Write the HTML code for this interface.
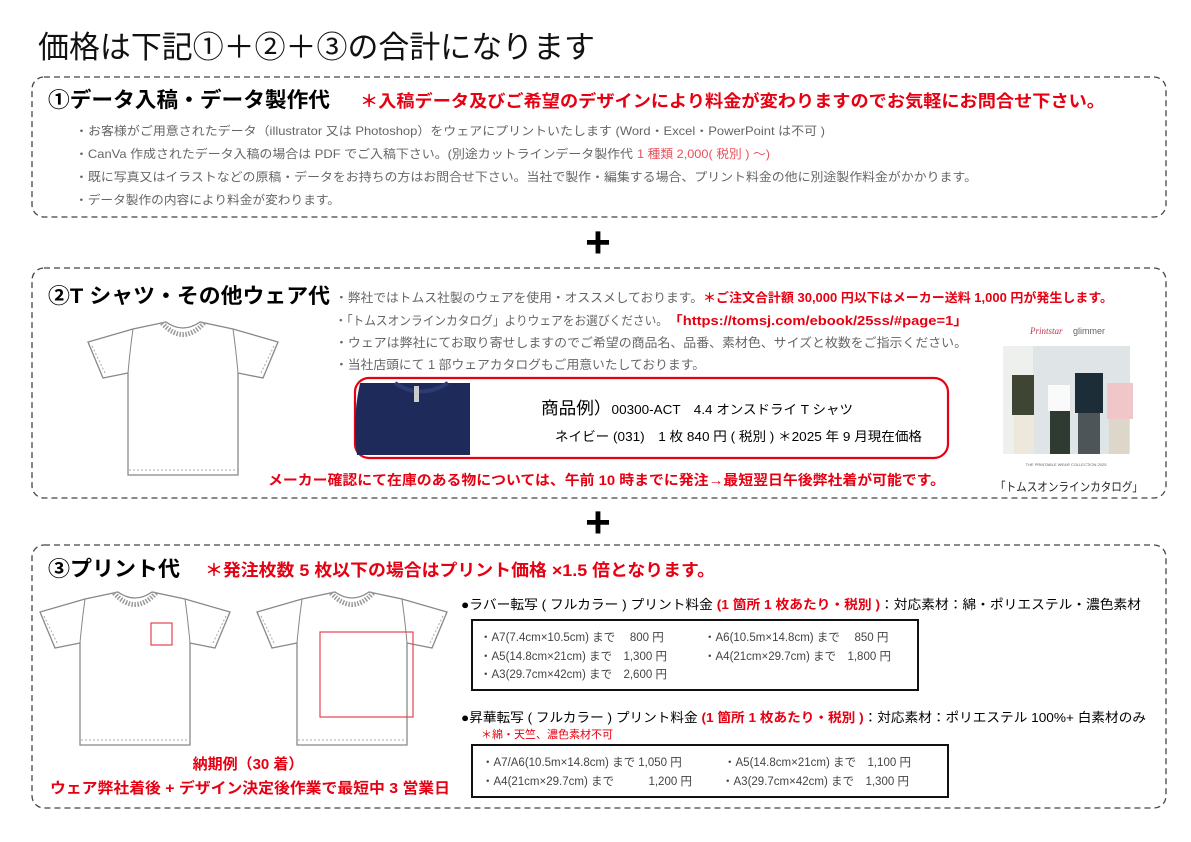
<!DOCTYPE html>
<html><head><meta charset="utf-8"><style>
body{margin:0;background:#fff}
svg{display:block;font-family:"Liberation Sans","Noto Sans CJK JP",sans-serif}
</style></head><body>
<svg width="1191" height="842" viewBox="0 0 1191 842" xmlns="http://www.w3.org/2000/svg">
<defs>
<g id="shirt">
<path d="M78,2 L45,9 L0,22 L15,58 L40,53 L40,155 L150,155 L150,53 L175,58 L190,22 L145,9 L112,2 Q95,14 78,2 Z" fill="#fff" stroke="#888" stroke-width="1.3"/>
<path d="M74,3 Q95,26 116,3" fill="none" stroke="#999" stroke-width="5" stroke-dasharray="1.5 1.5"/>
<path d="M4,26 L18,55 M186,26 L172,55" stroke="#aaa" stroke-width="1" stroke-dasharray="2 2"/>
<path d="M41,150 L149,150" stroke="#aaa" stroke-width="1" stroke-dasharray="2 2"/>
<path d="M45,9 Q42,30 40,53 M145,9 Q148,30 150,53" fill="none" stroke="#888" stroke-width="1"/>
</g>
</defs>
<text x="38" y="58" font-size="31" textLength="557" lengthAdjust="spacingAndGlyphs" fill="#111">価格は下記①＋②＋③の合計になります</text>

<rect x="32" y="77" width="1134" height="140" rx="12" fill="none" stroke="#444" stroke-width="1.3" stroke-dasharray="6 4"/>
<text x="48" y="107" font-size="21" font-weight="bold" textLength="282" lengthAdjust="spacingAndGlyphs">①データ入稿・データ製作代</text>
<text x="360" y="107" font-size="17" font-weight="bold" fill="#e60012" textLength="745" lengthAdjust="spacingAndGlyphs">＊入稿データ及びご希望のデザインにより料金が変わりますのでお気軽にお問合せ下さい。</text>
<g font-size="12" fill="#666">
<text x="75" y="135" textLength="750" lengthAdjust="spacingAndGlyphs">・お客様がご用意されたデータ（illustrator 又は Photoshop）をウェアにプリントいたします (Word・Excel・PowerPoint は不可 )</text>
<text x="75" y="158" textLength="558" lengthAdjust="spacingAndGlyphs">・CanVa 作成されたデータ入稿の場合は PDF でご入稿下さい。(別途カットラインデータ製作代</text>
<text x="637" y="158" fill="#e8505b" textLength="133" lengthAdjust="spacingAndGlyphs">1 種類 2,000( 税別 ) ～)</text>
<text x="75" y="181" textLength="902" lengthAdjust="spacingAndGlyphs">・既に写真又はイラストなどの原稿・データをお持ちの方はお問合せ下さい。当社で製作・編集する場合、プリント料金の他に別途製作料金がかかります。</text>
<text x="75" y="204" textLength="265" lengthAdjust="spacingAndGlyphs">・データ製作の内容により料金が変わります。</text>
</g>

<text x="598" y="257" font-size="44" font-weight="bold" text-anchor="middle">+</text>

<rect x="32" y="268" width="1134" height="230" rx="12" fill="none" stroke="#444" stroke-width="1.3" stroke-dasharray="6 4"/>
<text x="48" y="303" font-size="21" font-weight="bold" textLength="282" lengthAdjust="spacingAndGlyphs">②T シャツ・その他ウェア代</text>
<g font-size="12.5" fill="#666">
<text x="335" y="302" textLength="368" lengthAdjust="spacingAndGlyphs">・弊社ではトムス社製のウェアを使用・オススメしております。</text>
<text x="703" y="302" fill="#e60012" font-weight="bold" textLength="410" lengthAdjust="spacingAndGlyphs">＊ご注文合計額 30,000 円以下はメーカー送料 1,000 円が発生します。</text>
<text x="335" y="325" textLength="333" lengthAdjust="spacingAndGlyphs">・「トムスオンラインカタログ」よりウェアをお選びください。</text>
<text x="668" y="325" fill="#e60012" font-weight="bold" textLength="300" lengthAdjust="spacingAndGlyphs">「https://tomsj.com/ebook/25ss/#page=1」</text>
<text x="335" y="347" textLength="632" lengthAdjust="spacingAndGlyphs">・ウェアは弊社にてお取り寄せしますのでご希望の商品名、品番、素材色、サイズと枚数をご指示ください。</text>
<text x="335" y="369" textLength="370" lengthAdjust="spacingAndGlyphs">・当社店頭にて 1 部ウェアカタログもご用意いたしております。</text>
</g>
<use href="#shirt" x="88" y="320"/>
<rect x="355" y="378" width="593" height="80" rx="14" fill="none" stroke="#e60012" stroke-width="2.2"/>
<path d="M360,383 L470,383 L470,455 L357,455 Q352,420 360,383 Z" fill="#1d2a5a"/>
<path d="M395,383 Q420,400 448,383" fill="none" stroke="#2c3b72" stroke-width="4"/>
<rect x="414" y="386" width="5" height="16" fill="#ccc"/>
<text x="541" y="414" font-size="17" textLength="312" lengthAdjust="spacingAndGlyphs"><tspan font-size="17">商品例）</tspan><tspan font-size="13">00300-ACT　4.4 オンスドライ T シャツ</tspan></text>
<text x="555" y="441" font-size="13" textLength="367" lengthAdjust="spacingAndGlyphs">ネイビー (031)　1 枚 840 円 ( 税別 ) ＊2025 年 9 月現在価格</text>
<text x="268" y="485" font-size="14" font-weight="bold" fill="#e60012" textLength="677" lengthAdjust="spacingAndGlyphs">メーカー確認にて在庫のある物については、午前 10 時までに発注→最短翌日午後弊社着が可能です。</text>
<text x="1030" y="334" font-size="9" font-style="italic" fill="#c0304a" font-family="Liberation Serif,serif">Printstar</text>
<text x="1073" y="334" font-size="9" fill="#666">glimmer</text>
<rect x="1003" y="346" width="127" height="108" fill="#dfe4e6"/>
<rect x="1003" y="346" width="30" height="108" fill="#eef0ee"/>
<rect x="1012" y="375" width="22" height="40" fill="#3e4532"/><rect x="1014" y="415" width="20" height="39" fill="#ece8dc"/>
<rect x="1048" y="385" width="22" height="26" fill="#fafafa"/><rect x="1050" y="411" width="20" height="43" fill="#2f3a33"/>
<rect x="1075" y="373" width="28" height="40" fill="#1d2d38"/><rect x="1078" y="413" width="22" height="41" fill="#4d5559"/>
<rect x="1107" y="383" width="26" height="36" fill="#f1c6c9"/><rect x="1109" y="419" width="20" height="35" fill="#dcd7c9"/>
<text x="1066" y="466" font-size="4" fill="#666" text-anchor="middle">THE PRINTABLE WEAR COLLECTION 2025</text>
<text x="995" y="491" font-size="12" fill="#222" textLength="148" lengthAdjust="spacingAndGlyphs">「トムスオンラインカタログ」</text>

<text x="598" y="537" font-size="44" font-weight="bold" text-anchor="middle">+</text>

<rect x="32" y="545" width="1134" height="263" rx="12" fill="none" stroke="#444" stroke-width="1.3" stroke-dasharray="6 4"/>
<text x="48" y="576" font-size="21" font-weight="bold" textLength="132" lengthAdjust="spacingAndGlyphs">③プリント代</text>
<text x="205" y="576" font-size="17" font-weight="bold" fill="#e60012" textLength="510" lengthAdjust="spacingAndGlyphs">＊発注枚数 5 枚以下の場合はプリント価格 ×1.5 倍となります。</text>
<use href="#shirt" x="40" y="590"/>
<use href="#shirt" x="257" y="590"/>
<rect x="151" y="623" width="21" height="22" fill="none" stroke="#e8404f" stroke-width="1.2"/>
<rect x="320" y="632" width="93" height="85" fill="none" stroke="#e8404f" stroke-width="1.2"/>
<text x="248" y="769" font-size="15" font-weight="bold" fill="#e60012" text-anchor="middle">納期例（30 着）</text>
<text x="50" y="793" font-size="15" font-weight="bold" fill="#e60012" textLength="400" lengthAdjust="spacingAndGlyphs">ウェア弊社着後 + デザイン決定後作業で最短中 3 営業日</text>

<text x="461" y="609" font-size="13" textLength="680" lengthAdjust="spacingAndGlyphs">●ラバー転写 ( フルカラー ) プリント料金 <tspan fill="#e60012" font-weight="bold">(1 箇所 1 枚あたり・税別 )</tspan>：対応素材：綿・ポリエステル・濃色素材</text>
<rect x="472" y="620" width="446" height="70" fill="none" stroke="#111" stroke-width="2"/>
<g font-size="11.5" fill="#444">
<text x="480" y="641">・A7(7.4cm×10.5cm) まで　 800 円</text>
<text x="704" y="641">・A6(10.5m×14.8cm) まで　 850 円</text>
<text x="480" y="660">・A5(14.8cm×21cm) まで　1,300 円</text>
<text x="704" y="660">・A4(21cm×29.7cm) まで　1,800 円</text>
<text x="480" y="678">・A3(29.7cm×42cm) まで　2,600 円</text>
</g>
<text x="461" y="722" font-size="13" textLength="685" lengthAdjust="spacingAndGlyphs">●昇華転写 ( フルカラー ) プリント料金 <tspan fill="#e60012" font-weight="bold">(1 箇所 1 枚あたり・税別 )</tspan>：対応素材：ポリエステル 100%+ 白素材のみ</text>
<text x="481" y="738" font-size="11" fill="#e60012">＊綿・天竺、濃色素材不可</text>
<rect x="472" y="745" width="476" height="52" fill="none" stroke="#111" stroke-width="2"/>
<g font-size="11.5" fill="#444">
<text x="482" y="766">・A7/A6(10.5m×14.8cm) まで 1,050 円</text>
<text x="724" y="766">・A5(14.8cm×21cm) まで　1,100 円</text>
<text x="482" y="785">・A4(21cm×29.7cm) まで　　　1,200 円</text>
<text x="722" y="785">・A3(29.7cm×42cm) まで　1,300 円</text>
</g>
</svg>
</body></html>
